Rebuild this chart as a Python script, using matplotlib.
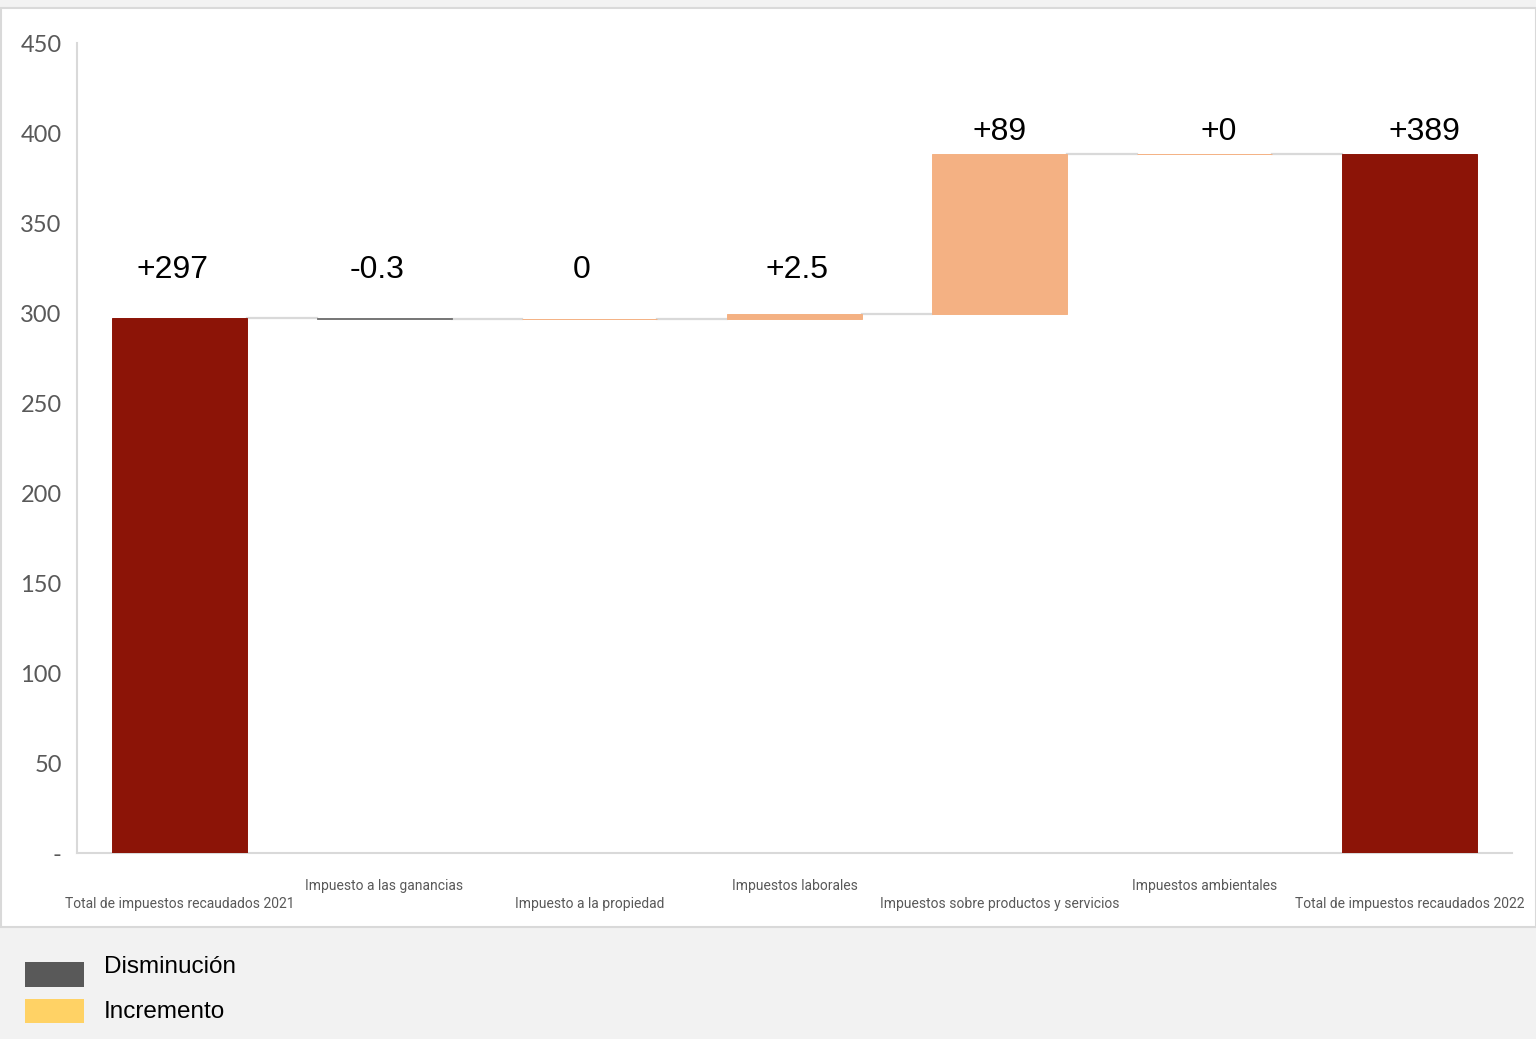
import matplotlib
matplotlib.use("Agg")
import matplotlib.pyplot as plt
from matplotlib.patches import Rectangle
import numpy as np

# data
categories = [
    "Total de impuestos recaudados 2021",
    "Impuesto a las ganancias",
    "Impuesto a la propiedad",
    "Impuestos laborales",
    "Impuestos sobre productos y servicios",
    "Impuestos ambientales",
    "Total de impuestos recaudados 2022",
]
start_total = 297.0
deltas = [-0.3, 0.0, 2.5, 89.0, 0.2]
value_labels = ["+297", "-0.3", "0", "+2.5", "+89", "+0", "+389"]
yticks = [0, 50, 100, 150, 200, 250, 300, 350, 400, 450]

# styles
total_color = "#8c1407"
up_color = "#f4b183"
down_color = "#767676"
conn_color = "#d9d9d9"
label_dy = [35, 35, 35, 32, 16, 16, 16]  # points above bar top
label_dx = [-5, -5, -6, 2, 0, 10, 11]

# waterfall geometry
levels = [start_total]
for d in deltas:
    levels.append(levels[-1] + d)
end_total = levels[-1]

bottoms, heights, colors = [0], [start_total], [total_color]
for i, d in enumerate(deltas):
    bottoms.append(min(levels[i], levels[i + 1]))
    heights.append(abs(d))
    colors.append(up_color if d >= 0 else down_color)
bottoms.append(0)
heights.append(end_total)
colors.append(total_color)
tops = [b + h for b, h in zip(bottoms, heights)]

W, H = 1536, 1039
fig = plt.figure(figsize=(W / 100, H / 100), dpi=100)
fig.patch.set_facecolor("#f2f2f2")

# white chart panel
fig.add_artist(Rectangle((1 / W, (H - 927) / H), (W - 1) / W, (927 - 8) / H,
                         transform=fig.transFigure, facecolor="white",
                         edgecolor="#d9d9d9", linewidth=1.5, zorder=0))

ax = fig.add_axes([77 / W, (H - 853) / H, (1512 - 77) / W, (853 - 43) / H])
ax.set_facecolor("none")

x = np.arange(len(categories))
bw = 0.66
ax.bar(x, heights, bottom=bottoms, width=bw, color=colors,
       edgecolor=colors, linewidth=0.7, zorder=3)

# connectors
for i in range(len(categories) - 1):
    lvl = levels[i] if i < len(levels) else end_total
    ax.plot([x[i] + bw / 2, x[i + 1] - bw / 2], [lvl, lvl],
            color=conn_color, linewidth=1.6, zorder=2)

for xi, t, lab, dx, dy in zip(x, tops, value_labels, label_dx, label_dy):
    ax.annotate(lab, (xi, t), xytext=(dx, dy), textcoords="offset points",
                ha="center", va="center", fontsize=23, color="black",
                family=["Liberation Sans", "DejaVu Sans"])

ax.set_xlim(-0.5, len(categories) - 0.5)
ax.set_ylim(0, 450)
ax.set_yticks(yticks)
ax.set_yticklabels(["-" if v == 0 else str(v) for v in yticks],
                   fontsize=17, color="#595959", family=["Lato", "DejaVu Sans"])
ax.tick_params(axis="y", length=0, pad=11)

ax.set_xticks(x)
ax.set_xticklabels(categories, fontsize=10, color="#595959",
                   family=["Roboto", "DejaVu Sans"])
ax.tick_params(axis="x", length=0)
for i, tick in enumerate(ax.xaxis.get_major_ticks()):
    tick.set_pad(19 if i % 2 == 1 else 32)

for s in ["top", "right"]:
    ax.spines[s].set_visible(False)
for s in ["left", "bottom"]:
    ax.spines[s].set_color("#d9d9d9")
    ax.spines[s].set_linewidth(1.5)

# legend boxes below the chart panel
fig.add_artist(Rectangle((25 / W, (H - 987) / H), 59 / W, 25 / H,
                         transform=fig.transFigure, facecolor="#595959",
                         edgecolor="none"))
fig.add_artist(Rectangle((25 / W, (H - 1023) / H), 59 / W, 24 / H,
                         transform=fig.transFigure, facecolor="#ffd265",
                         edgecolor="none"))
fig.text(104 / W, (H - 967) / H, "Disminución", fontsize=17.5, va="center",
         family=["Liberation Sans", "DejaVu Sans"])
fig.text(104 / W, (H - 1012) / H, "Incremento", fontsize=17.5, va="center",
         family=["Liberation Sans", "DejaVu Sans"])

fig.savefig("out.png", dpi=100, facecolor=fig.get_facecolor())
